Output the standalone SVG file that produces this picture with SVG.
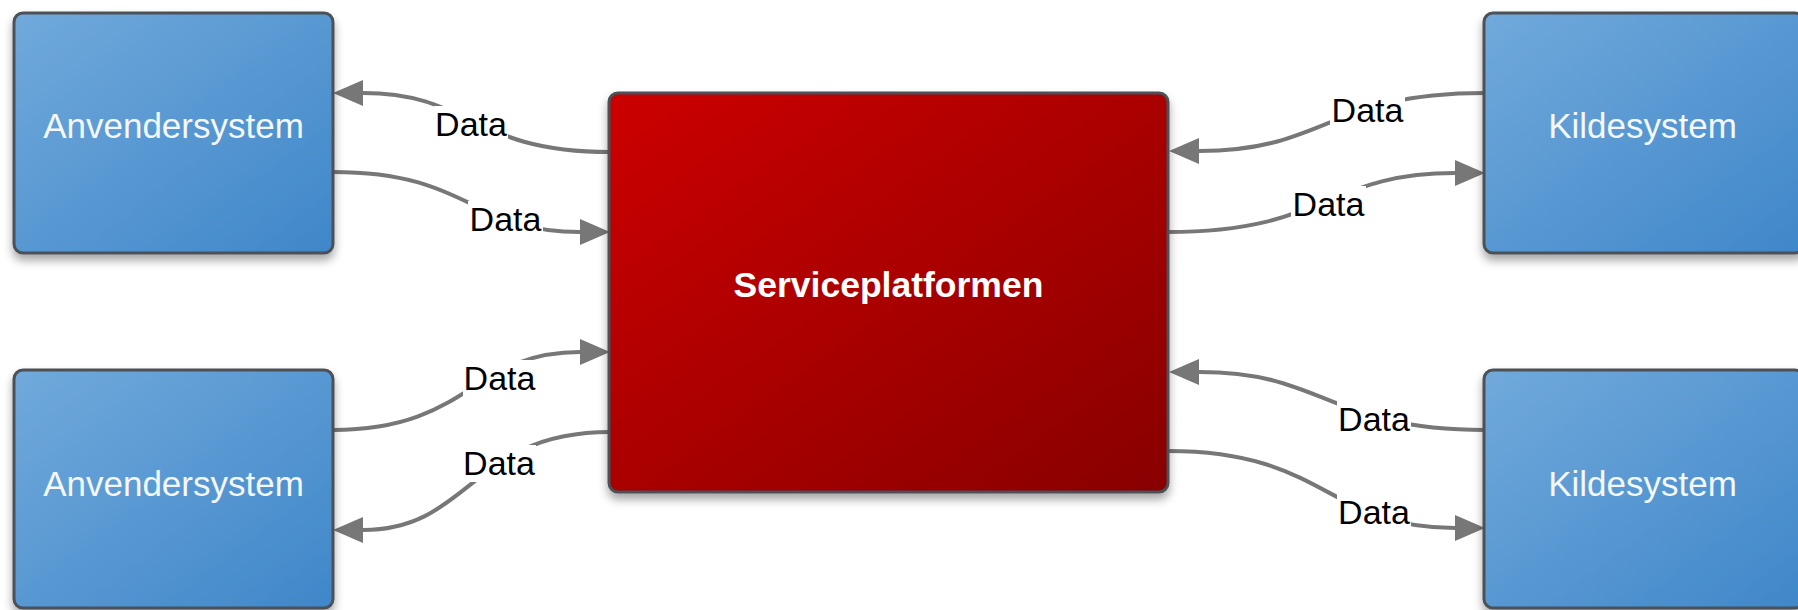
<svg xmlns="http://www.w3.org/2000/svg" width="1798" height="610" viewBox="0 0 1798 610">
  <style>
    .sys { stroke: #4b5157; stroke-width: 3; filter: url(#shadow); }
    .blue { fill: url(#blueGrad); }
    .red { fill: url(#redGrad); }
    .nodeText { font-family: "Liberation Sans", Arial, sans-serif; font-size: 35px; fill: #f4f7fb; text-anchor: middle; }
    .mainText { font-family: "Liberation Sans", Arial, sans-serif; font-size: 35.5px; font-weight: bold; fill: #ffffff; text-anchor: middle; }
    .conn { fill: none; stroke: #777777; stroke-width: 4; marker-end: url(#arrow); }
    .lblBg { fill: #ffffff; }
    .lbl { font-family: "Liberation Sans", Arial, sans-serif; font-size: 34px; fill: #000000; text-anchor: middle; }
  </style>
  <defs>
    <linearGradient id="blueGrad" x1="0" y1="0" x2="1" y2="1">
      <stop offset="0" stop-color="#71a9db"/>
      <stop offset="1" stop-color="#3f87c9"/>
    </linearGradient>
    <linearGradient id="redGrad" x1="0" y1="0" x2="1" y2="1">
      <stop offset="0" stop-color="#cc0000"/>
      <stop offset="1" stop-color="#880000"/>
    </linearGradient>
    <filter id="shadow" x="-10%" y="-10%" width="120%" height="125%">
      <feDropShadow dx="0" dy="6" stdDeviation="5" flood-color="#000000" flood-opacity="0.35"/>
    </filter>
    <marker id="arrow" markerUnits="userSpaceOnUse" markerWidth="30" markerHeight="26" refX="0" refY="13" orient="auto">
      <path d="M0,0 L30,13 L0,26 Z" fill="#777777"/>
    </marker>
  </defs>

  <g id="connectors">
    <path class="conn" d="M610,152 C471,152 471,93 363,93"/>
    <path class="conn" d="M333,172 C471,172 471,232 580,232"/>
    <path class="conn" d="M333,430 C471,430 471,352 580,352"/>
    <path class="conn" d="M610,432 C471,432 471,530 363,530"/>
    <path class="conn" d="M1485,93 C1327,93 1327,151 1199,151"/>
    <path class="conn" d="M1168,232 C1327,232 1327,173 1455,173"/>
    <path class="conn" d="M1485,430 C1327,430 1327,372 1199,372"/>
    <path class="conn" d="M1168,451 C1327,451 1327,528 1455,528"/>
    <g id="labels">
      <rect class="lblBg" x="434" y="106" width="74" height="37"/>
      <text class="lbl" x="471" y="136">Data</text>
      <rect class="lblBg" x="468" y="201" width="75" height="37"/>
      <text class="lbl" x="505.5" y="231">Data</text>
      <rect class="lblBg" x="463" y="360" width="73" height="37"/>
      <text class="lbl" x="499.5" y="390">Data</text>
      <rect class="lblBg" x="462" y="445" width="74" height="37"/>
      <text class="lbl" x="499" y="475">Data</text>
      <rect class="lblBg" x="1330" y="92" width="75" height="37"/>
      <text class="lbl" x="1367.5" y="122">Data</text>
      <rect class="lblBg" x="1291" y="186" width="75" height="37"/>
      <text class="lbl" x="1328.5" y="216">Data</text>
      <rect class="lblBg" x="1337" y="401" width="74" height="37"/>
      <text class="lbl" x="1374" y="431">Data</text>
      <rect class="lblBg" x="1337" y="494" width="74" height="37"/>
      <text class="lbl" x="1374" y="524">Data</text>
    </g>
  </g>

  <g id="anvender1">
    <rect class="sys blue" x="14" y="13" width="319" height="240" rx="9"/>
    <text class="nodeText" x="173.5" y="138">Anvendersystem</text>
  </g>
  <g id="anvender2">
    <rect class="sys blue" x="14" y="370" width="319" height="238" rx="9"/>
    <text class="nodeText" x="173.5" y="496">Anvendersystem</text>
  </g>
  <g id="serviceplatformen">
    <rect class="sys red" x="609" y="93" width="559" height="399" rx="9"/>
    <text class="mainText" x="888.5" y="297">Serviceplatformen</text>
  </g>
  <g id="kilde1">
    <rect class="sys blue" x="1484" y="13" width="320" height="240" rx="9"/>
    <text class="nodeText" x="1642.5" y="138">Kildesystem</text>
  </g>
  <g id="kilde2">
    <rect class="sys blue" x="1484" y="370" width="320" height="238" rx="9"/>
    <text class="nodeText" x="1642.5" y="496">Kildesystem</text>
  </g>
</svg>
